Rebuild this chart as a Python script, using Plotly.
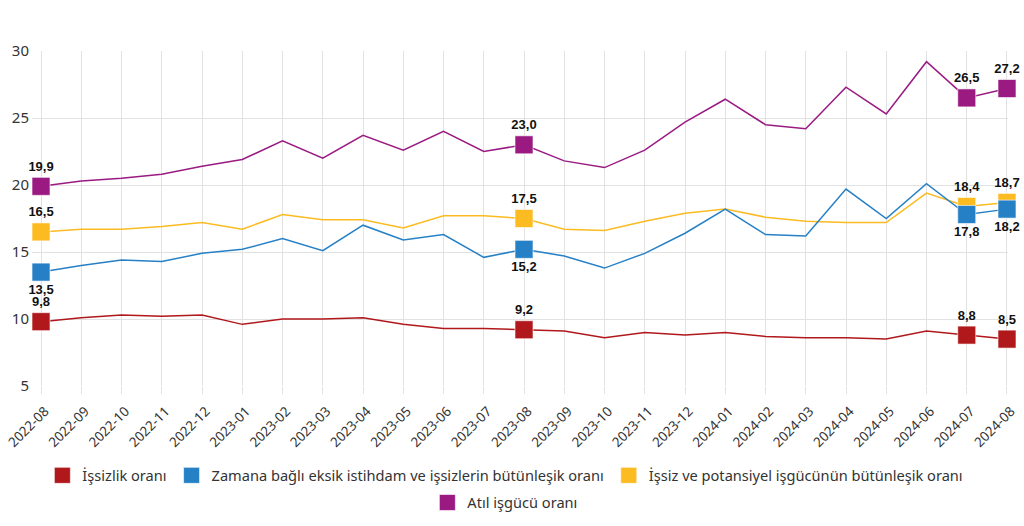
import plotly.graph_objects as go

categories = ["2022-08","2022-09","2022-10","2022-11","2022-12","2023-01","2023-02","2023-03",
              "2023-04","2023-05","2023-06","2023-07","2023-08","2023-09","2023-10","2023-11",
              "2023-12","2024-01","2024-02","2024-03","2024-04","2024-05","2024-06","2024-07","2024-08"]

issizlik = [9.8,10.1,10.3,10.2,10.3,9.6,10.0,10.0,10.1,9.6,9.3,9.3,9.2,9.1,8.6,9.0,8.8,9.0,8.7,8.6,8.6,8.5,9.1,8.8,8.5]
zamana = [13.5,14.0,14.4,14.3,14.9,15.2,16.0,15.1,17.0,15.9,16.3,14.6,15.2,14.7,13.8,14.9,16.4,18.2,16.3,16.2,19.7,17.5,20.1,17.8,18.2]
potansiyel = [16.5,16.7,16.7,16.9,17.2,16.7,17.8,17.4,17.4,16.8,17.7,17.7,17.5,16.7,16.6,17.3,17.9,18.2,17.6,17.3,17.2,17.2,19.4,18.4,18.7]
atil = [19.9,20.3,20.5,20.8,21.4,21.9,23.3,22.0,23.7,22.6,24.0,22.5,23.0,21.8,21.3,22.6,24.7,26.4,24.5,24.2,27.3,25.3,29.2,26.5,27.2]

names = ["İşsizlik oranı",
         "Zamana bağlı eksik istihdam ve işsizlerin bütünleşik oranı",
         "İşsiz ve potansiyel işgücünün bütünleşik oranı",
         "Atıl işgücü oranı"]
colors = ["#b0181b", "#2680c6", "#fbbb21", "#9a1a82"]
label_idx = [0, 12, 23, 24]
label_below = [False, True, False, False]

series = [issizlik, zamana, potansiyel, atil]

fig = go.Figure()

# draw order: purple, yellow, blue, red (blue above yellow)
for k in [3, 2, 1, 0]:
    vals = series[k]
    text = [f"{v:.1f}".replace(".", ",") if i in label_idx else "" for i, v in enumerate(vals)]
    sizes = [18 if i in label_idx else 0 for i in range(len(vals))]
    pos = "bottom center" if label_below[k] else "top center"
    fig.add_trace(go.Scatter(
        x=categories, y=vals, mode="lines+markers+text",
        line=dict(color=colors[k], width=1.5),
        marker=dict(symbol="square", size=sizes, color=colors[k], opacity=1,
                    line=dict(color="rgba(255,255,255,0.6)", width=1)),
        text=text, textposition=pos,
        textfont=dict(family="Liberation Sans, Arial", size=13, color="#111111", weight="bold"),
        showlegend=False, cliponaxis=False, hoverinfo="x+y", name=names[k]))

for k in range(4):
    fig.add_trace(go.Scatter(
        x=[None], y=[None], mode="markers",
        marker=dict(symbol="square", size=16, color=colors[k],
                    line=dict(color="rgba(255,255,255,0.6)", width=1)),
        name=names[k], showlegend=True,
        legend="legend" if k < 3 else "legend2"))

fig.update_layout(
    width=1024, height=526,
    margin=dict(l=32, r=16, t=51, b=140, autoexpand=False),
    paper_bgcolor="white", plot_bgcolor="white",
    font=dict(family="Noto Sans, Open Sans, sans-serif", size=14, color="#333333"),
    legend=dict(orientation="h", x=0.485, xanchor="center", y=-0.219, yanchor="top",
                font=dict(size=14.6, color="#333333"), itemsizing="trace", traceorder="normal",
                itemwidth=30),
    legend2=dict(orientation="h", x=0.485, xanchor="center", y=-0.3, yanchor="top",
                 font=dict(size=14.6, color="#333333"), itemsizing="trace", itemwidth=30),
)

fig.update_xaxes(
    type="category", range=[-0.224, 24.025], automargin=False,
    showgrid=True, gridcolor="#e2e2e2", gridwidth=1,
    ticks="outside", ticklen=7, tickcolor="#e2e2e2",
    tickangle=-45, tickfont=dict(size=13.5, color="#333333"),
    ticklabelshift=4, ticklabelstandoff=4,
    showline=False, zeroline=False)

fig.update_yaxes(
    range=[5, 30], dtick=5, tick0=5, automargin=False,
    showgrid=True, gridcolor="#e2e2e2", gridwidth=1,
    ticks="", tickfont=dict(size=15, color="#333333"), ticklabelstandoff=2,
    showline=False, zeroline=False)

fig.write_html("out.html",
               config={"displayModeBar": False},
               post_script="document.body.style.margin='0';document.body.style.overflow='hidden';")
